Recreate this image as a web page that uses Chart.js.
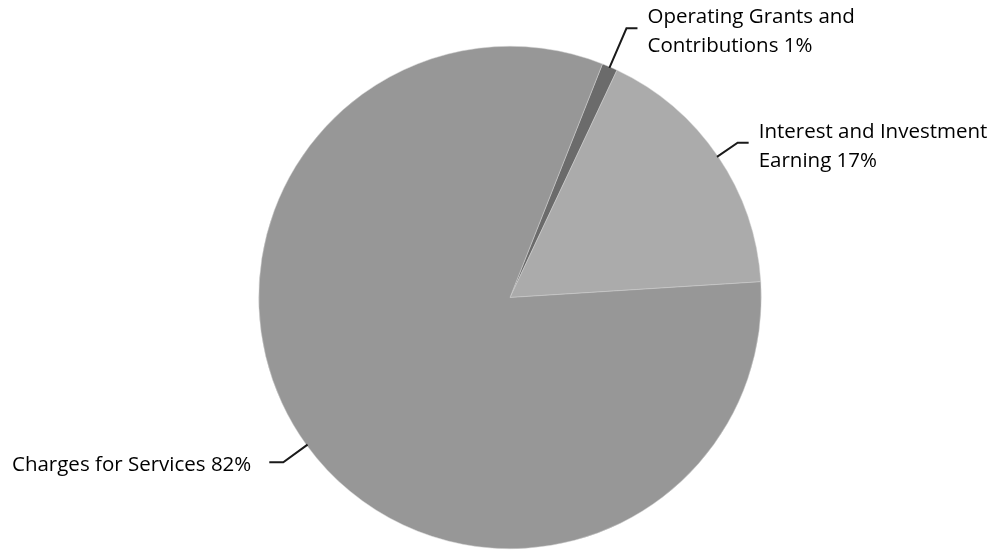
<!DOCTYPE html>
<html>
<head>
<meta charset="utf-8">
<script src="https://cdn.jsdelivr.net/npm/chart.js@4.4.0/dist/chart.umd.min.js"></script>
<style>
  html, body { margin: 0; padding: 0; background: #ffffff; }
  #wrap { width: 998px; height: 553px; position: relative; }
</style>
</head>
<body>
<div id="wrap"><canvas id="pieChart"></canvas></div>
<script>
// Data
const categories = ['Operating Grants and Contributions', 'Interest and Investment Earning', 'Charges for Services'];
const shares = [1, 17, 82];
const labelLines = [
    ['Operating Grants and', 'Contributions 1%'],
    ['Interest and Investment', 'Earning 17%'],
    ['Charges for Services 82%']
];
const sliceColors = ['#6b6b6b', '#ababab', '#979797'];

// leader line lengths (radial part) per slice
const leaderLen = [43, 25, 30];

const leaderPlugin = {
    id: 'leaderLabels',
    afterDatasetsDraw(chart) {
        const ctx = chart.ctx;
        const meta = chart.getDatasetMeta(0);
        ctx.save();
        ctx.font = '20.5px "Open Sans", sans-serif';
        ctx.fillStyle = '#000000';
        ctx.strokeStyle = '#1a1a1a';
        ctx.lineWidth = 2;
        ctx.textBaseline = 'middle';
        meta.data.forEach(function(arc, i) {
            const mid = (arc.startAngle + arc.endAngle) / 2;
            const cx = arc.x, cy = arc.y;
            const r = arc.outerRadius - 1;
            const x0 = cx + Math.cos(mid) * r;
            const y0 = cy + Math.sin(mid) * r;
            const x1 = cx + Math.cos(mid) * (r + leaderLen[i]);
            const y1 = cy + Math.sin(mid) * (r + leaderLen[i]);
            const right = Math.cos(mid) >= 0;
            const x2 = x1 + (right ? 11 : -14);
            ctx.beginPath();
            ctx.moveTo(x0, y0);
            ctx.lineTo(x1, y1);
            ctx.lineTo(x2, y1);
            ctx.stroke();
            const lines = labelLines[i];
            if (right) {
                ctx.textAlign = 'left';
                lines.forEach(function(t, k) {
                    ctx.fillText(t, x2 + 10, y1 - 11 + k * 29);
                });
            } else {
                ctx.textAlign = 'right';
                lines.forEach(function(t, k) {
                    ctx.fillText(t, x2 - 18, y1 + 3 + k * 29);
                });
            }
        });
        ctx.restore();
    }
};

new Chart(document.getElementById('pieChart'), {
    type: 'pie',
    data: {
        labels: categories,
        datasets: [{
            data: shares,
            backgroundColor: sliceColors,
            borderColor: '#d0d0d0',
            borderWidth: 0.5
        }]
    },
    options: {
        responsive: true,
        maintainAspectRatio: false,
        animation: false,
        rotation: 21.6,
        layout: { padding: { top: 46, bottom: 4, left: 22, right: 0 } },
        plugins: {
            legend: { display: false },
            tooltip: { enabled: false }
        }
    },
    plugins: [leaderPlugin]
});
</script>
</body>
</html>
